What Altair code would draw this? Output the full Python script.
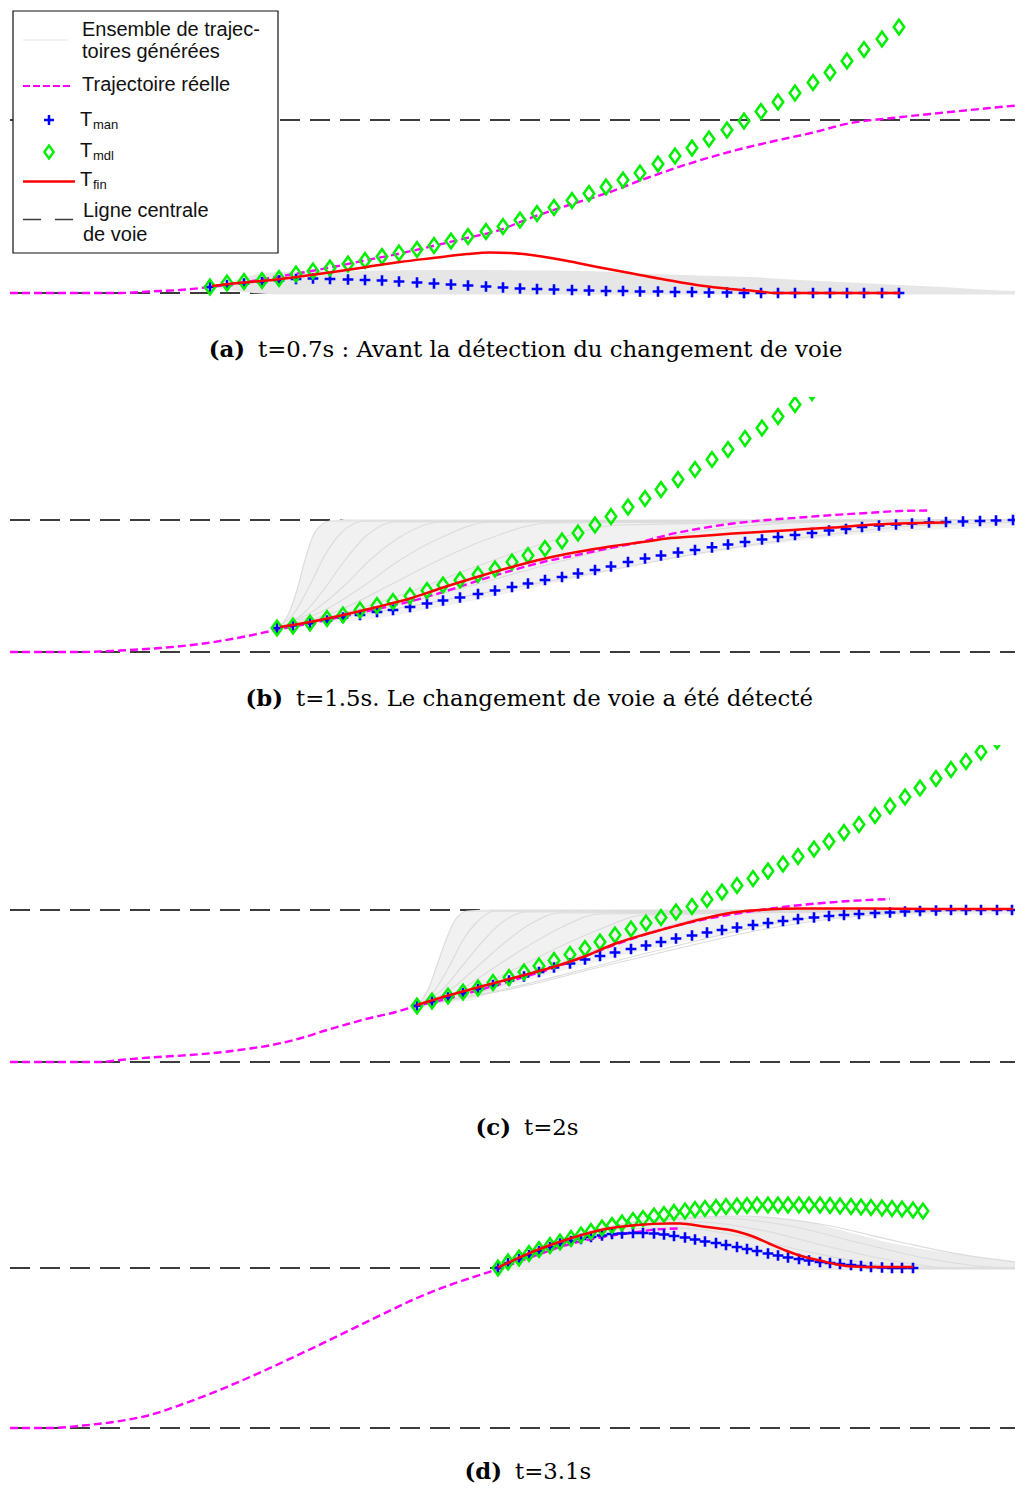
import altair as alt
import pandas as pd

# ---------------- Panel (a) : t=0.7s ----------------
a_lanes = [0, 173]
a_x = [210, 227, 244, 262, 279, 296, 313, 330, 348, 365, 382, 399, 417, 434, 451, 468, 486, 503, 520, 537,
       554, 572, 589, 606, 623, 640, 658, 675, 692, 709, 727, 744, 761, 778, 795, 813, 830, 847, 864, 882, 899]
a_man = [6, 8, 9.5, 11, 12.5, 14, 14.5, 14, 13.5, 13, 12.5, 11.5, 10.5, 9.5, 8.5, 7.5, 6.5, 5.5, 4.5, 4,
         3.5, 3, 2.5, 2, 2, 1.5, 1.5, 1, 1, 0.5, 0.5, 0, 0, 0, 0, 0, 0, 0, 0, 0, 0]
a_mdl = [6, 10, 11.5, 12.5, 14.5, 19, 22, 25, 29, 32.5, 36.5, 40, 43.5, 47.5, 52, 56.5, 61.5, 66.5, 73, 79.5,
         85.5, 92.5, 99.5, 106, 113, 120, 129, 137, 145, 154, 163, 172, 181.5, 191, 200, 210.5, 220.5, 232, 243.5, 254, 266]
a_fin_x = [212, 233, 267, 300, 333, 367, 400, 433, 467, 490, 510, 535, 565, 600, 635, 670, 700, 730, 760, 775, 900]
a_fin_y = [7, 9.5, 12.5, 16.5, 21, 26, 31, 35, 39, 40.5, 40, 37.5, 32.5, 25.5, 19, 12.5, 7.5, 4, 1.5, 0, 0]
a_real_x = [10, 120, 150, 180, 210, 240, 270, 300, 333, 367, 400, 433, 467, 500, 525, 566, 607, 647, 688, 729,
            770, 811, 851, 892, 930, 970, 1000, 1023]
a_real_y = [0, 0, 1.5, 3, 6, 10, 15, 20, 26, 33, 39.5, 47, 55, 63, 73, 87, 100, 115, 129, 141,
            151, 160, 170, 175, 179, 183, 186, 188]
a_fan_x = [210, 230, 253, 280, 350, 450, 550, 600, 650, 700, 750, 800, 850, 900, 950, 980, 1000, 1023]
a_fan_hi = [6, 11, 18, 21, 22, 23, 22.5, 21.5, 19, 17.5, 16, 13, 10.5, 8, 5.5, 3.5, 2.5, 2]
a_fan_lo = [6, 3, 0, -1.5, -1.5, -1.5, -1.5, -1.5, -1.5, -1.5, -1.5, -1.5, -1.5, -1.5, -1.5, -1.5, -1.5, -1.5]

# ---------------- Panel (b) : t=1.5s ----------------
b_lanes = [0, 132]
b_x = [277, 293, 310, 327, 343, 360, 377, 393, 410, 427, 443, 460, 478, 495, 512, 528, 545, 562, 578, 595,
       611, 628, 645, 661, 678, 695, 712, 728, 745, 762, 778, 795, 812, 829, 846, 862, 879, 896, 912, 929,
       946, 963, 980, 996, 1013]
b_man = [24, 26.5, 28.7, 31.5, 34.5, 37, 40, 42, 45, 48.5, 51.5, 54.5, 58, 61.5, 65, 68.5, 72, 75, 78.5, 82,
         85.5, 90, 93.5, 96.5, 99.5, 102, 104.7, 107.5, 110, 112.5, 115, 117, 119, 121.5, 123, 125, 126.5, 127.5,
         128.5, 129.5, 130, 130.5, 131, 131.5, 132]
b_mdl = [24, 26, 29, 33.5, 37, 42, 46.5, 50.5, 56, 61.5, 67, 72, 77.5, 83, 90, 96.5, 103.5, 111, 119, 127,
         135.5, 145, 153.5, 162.5, 172.5, 182.5, 192.5, 202.5, 213.5, 224, 235.5, 247.5, 259.5]
b_fin_x = [280, 310, 343, 377, 410, 443, 477, 510, 543, 577, 610, 643, 667, 700, 733, 767, 800, 833, 867, 900, 945]
b_fin_y = [25, 30, 37, 45, 53.5, 64.5, 75, 84.5, 93, 100, 105.5, 110, 113.5, 116, 118.5, 120.5, 122.5, 124.5, 127, 128.5, 129.5]
b_real_x = [10, 80, 120, 160, 200, 240, 278, 310, 343, 377, 410, 443, 477, 510, 543, 577, 610, 643, 667, 700,
            733, 767, 800, 833, 867, 900, 928]
b_real_y = [0, 0, 1.5, 4, 8, 14.5, 22.5, 28.5, 35.5, 43, 50.5, 60, 71, 81, 90, 97, 104, 110.5, 117, 123.5,
            128.5, 132, 134.5, 137, 139, 141, 141.5]
b_fan_x = [277, 288, 297, 305, 315, 330, 350, 450, 550, 650, 750, 850, 950, 1023]
b_fan_hi = [24, 37, 62, 92, 120, 131, 133, 133, 133, 133, 133, 133, 133, 133]
b_fan_lo = [24, 25, 26.5, 27.5, 29, 30, 31, 47, 68, 89, 105, 117, 123, 124]
b_fan_curves = [
    [(277, 24), (288, 37), (297, 62), (305, 92), (315, 120), (330, 131), (1023, 132)],
    [(277, 24), (295, 40), (310, 67), (325, 97), (342, 120), (365, 131), (1023, 132)],
    [(277, 24), (305, 40), (325, 64), (345, 92), (365, 115), (395, 130), (1023, 132)],
    [(277, 24), (315, 42), (345, 67), (370, 92), (400, 115), (440, 130), (1023, 132)],
    [(277, 24), (325, 42), (365, 67), (400, 92), (440, 114), (490, 130), (1023, 132)],
    [(277, 24), (340, 42), (390, 67), (435, 90), (485, 112), (550, 129), (1023, 132)],
    [(277, 24), (355, 42), (420, 64), (480, 87), (545, 109), (620, 127), (1023, 132)],
    [(277, 24), (375, 42), (455, 62), (535, 84), (615, 104), (710, 122), (820, 130), (1023, 132)],
    [(277, 24), (400, 44), (500, 62), (600, 80), (700, 99), (800, 114), (900, 125), (1023, 130)],
]

# ---------------- Panel (c) : t=2s ----------------
c_lanes = [0, 152]
c_x = [417, 432, 448, 463, 478, 493, 509, 524, 539, 554, 570, 585, 600, 615, 631, 646, 661, 676, 692, 707,
       722, 737, 753, 768, 783, 798, 814, 829, 844, 859, 875, 890, 905, 920, 936, 951, 966, 981, 997, 1012]
c_man = [56.5, 60.5, 64.5, 69, 73, 77, 81.5, 85.5, 90, 94.5, 98.5, 102.5, 106, 109.5, 113, 116.5, 120, 123.5,
         126.5, 129.5, 132, 134.5, 137, 139, 141, 143, 144.5, 146, 147, 148, 149, 149.5, 150.5, 151, 151.5,
         152, 152, 152, 152, 152]
c_mdl = [56, 61, 66, 70, 74, 79.5, 84.5, 90, 96, 101.5, 107.5, 113.5, 120, 127, 133, 139, 144.5, 150, 155.5,
         162.5, 170, 176.5, 183.5, 191, 198, 205.5, 213, 220.5, 229.5, 237.5, 246.5, 256, 265, 274, 283.5,
         292.5, 300.5, 310, 321]
c_fin_x = [417, 450, 483, 517, 550, 583, 617, 650, 683, 700, 717, 733, 750, 767, 800, 867, 933, 1013]
c_fin_y = [57, 67, 76, 85, 94, 105, 119, 129, 138, 142.5, 146.5, 149.5, 151.5, 152.5, 153.5, 153.5, 153, 153]
c_real_x = [10, 100, 120, 150, 190, 228, 250, 272, 305, 327, 348, 368, 390, 417, 450, 483, 517, 550, 583, 617,
            650, 683, 717, 750, 783, 817, 850, 890]
c_real_y = [0, 0, 2, 4.5, 7, 10.5, 13.5, 17, 25, 32, 38, 43.5, 48.5, 56, 64, 73, 83, 93, 105, 118,
            129, 138, 145, 150.5, 155, 158.5, 161, 163]
c_fan_x = [417, 428, 437, 446, 455, 468, 500, 600, 700, 800, 900, 1023]
c_fan_hi = [56, 72, 97, 122, 142, 151, 153, 153, 153, 153, 153, 153]
c_fan_lo = [56, 57, 58, 59, 60, 61, 73, 101, 124, 140, 147, 148]
c_fan_curves = [
    [(417, 56), (428, 72), (437, 97), (446, 122), (455, 142), (468, 151), (1023, 152)],
    [(417, 56), (435, 72), (450, 97), (463, 122), (477, 140), (495, 151), (1023, 152)],
    [(417, 56), (442, 72), (463, 97), (482, 120), (500, 138), (525, 150), (1023, 152)],
    [(417, 56), (450, 72), (478, 96), (503, 118), (527, 136), (560, 149), (1023, 152)],
    [(417, 56), (460, 72), (495, 95), (528, 116), (560, 134), (600, 148), (1023, 152)],
    [(417, 56), (472, 72), (515, 93), (557, 114), (598, 132), (645, 147), (1023, 152)],
    [(417, 56), (488, 72), (540, 91), (592, 111), (642, 128), (700, 144), (780, 151), (1023, 152)],
    [(417, 56), (505, 73), (570, 89), (635, 106), (700, 122), (770, 138), (850, 148), (1023, 152)],
    [(417, 56), (520, 75), (600, 95), (680, 114), (760, 132), (840, 144), (930, 150), (1023, 152)],
]

# ---------------- Panel (d) : t=3.1s ----------------
d_lanes = [0, 160]
d_x = [498, 508, 519, 529, 539, 550, 560, 571, 581, 591, 602, 612, 622, 633, 643, 654, 664, 674, 685, 695,
       705, 716, 726, 737, 747, 757, 768, 778, 788, 799, 809, 820, 830, 840, 851, 861, 871, 882, 892, 902, 913, 923]
d_man = [160.5, 165, 169, 173, 177, 181, 184.5, 187, 189, 191, 192.5, 194, 194.5, 195, 195, 194.5, 193.5, 192,
         190.5, 188.5, 186.5, 185, 183, 181, 179, 177, 174.5, 172.5, 170.5, 169, 167.5, 166, 165, 164, 163,
         162, 161, 160.5, 160, 160, 160]
d_mdl = [160, 166, 170, 174.5, 178.5, 182.5, 186, 189.5, 193, 196.5, 200, 202.5, 205, 207.5, 209.5, 212, 213.5,
         215.5, 217, 218.5, 219.5, 220.5, 221.5, 222, 222.5, 223, 223, 223, 223, 223, 223, 223, 222.5, 222,
         221.5, 221, 220.5, 220, 219.5, 219, 218, 217]
d_fin_x = [498, 537, 570, 603, 637, 670, 680, 703, 737, 753, 770, 787, 803, 820, 837, 853, 880, 913]
d_fin_y = [160.5, 178, 189.5, 198.5, 203, 204.5, 204.5, 201.5, 196.5, 191.5, 184, 177, 171.5, 167.5, 163.5, 161.5, 161, 161]
d_real_x = [10, 50, 83, 117, 150, 183, 217, 250, 283, 317, 350, 383, 417, 450, 483, 498, 537, 570, 603, 637, 655, 680]
d_real_y = [0, 0, 2.5, 6.5, 13, 24, 37, 51, 66, 82, 98, 114, 130, 143, 154, 159, 173, 184, 191, 196, 198.5, 199.5]
d_fan_x = [498, 540, 580, 620, 660, 700, 740, 780, 810, 840, 870, 900, 950, 1000, 1023]
d_fan_hi = [160, 178, 191, 202, 209, 212, 212, 210, 206, 198, 190, 183, 175, 169, 166]
d_fan_lo = [158, 158, 158, 158, 158, 158, 158, 158, 158, 158, 158, 158, 158, 158, 158]
d_fan_curves = [
    [(498, 160), (560, 185), (620, 195), (660, 194), (720, 184), (780, 172), (840, 163), (880, 160), (1023, 160)],
    [(498, 160), (560, 187), (620, 199), (680, 200), (740, 192), (800, 178), (860, 166), (910, 160), (1023, 160)],
    [(498, 160), (560, 188), (630, 203), (700, 206), (760, 198), (830, 181), (900, 166), (950, 160), (1023, 160)],
    [(498, 160), (570, 191), (640, 206), (720, 210), (790, 202), (860, 185), (930, 169), (990, 161), (1023, 160)],
    [(498, 160), (580, 194), (660, 209), (740, 212), (820, 204), (900, 186), (970, 172), (1023, 165)],
]

captions = [
    ("(a)", "t=0.7s : Avant la détection du changement de voie"),
    ("(b)", "t=1.5s. Le changement de voie a été détecté"),
    ("(c)", "t=2s"),
    ("(d)", "t=3.1s"),
]

# ---------------- styling ----------------
SERIF = "DejaVu Serif"
SANS = "Liberation Sans"
MAGENTA = "#ff00ff"
BLUE = "#0000ff"
GREEN = "#00ee00"
RED = "#ff0000"
LANE = "#3c3c3c"
FAN_LINE = "#dcdcdc"
PLUS = "M-1,0L1,0M0,-1L0,1"
DIAMOND = "M0,-1L0.72,0L0,1L-0.72,0Z"
XS = alt.Scale(domain=[10, 1015], nice=False, zero=False)
W = 1005


def pts(xs, ys):
    return pd.DataFrame({"x": xs[:len(ys)], "y": ys})


def txt(text, x, y, **kw):
    return alt.Chart(alt.Data(values=[{"k": 1}])).mark_text(text=text, **kw).encode(
        x=alt.value(x), y=alt.value(y))


def rule(x1, x2, y, **kw):
    return alt.Chart(alt.Data(values=[{"k": 1}])).mark_rule(**kw).encode(
        x=alt.value(x1), x2=alt.value(x2), y=alt.value(y))


def make_panel(lanes, xs_pts, man, mdl, fin_x, fin_y, real_x, real_y, fan_x, fan_hi, fan_lo, fan_curves,
               ydom, height, fan_fill, cap, cap_x, cap_y, extra=None):
    ys = alt.Scale(domain=ydom, nice=False, zero=False)
    X = alt.X("x:Q", scale=XS, axis=None)
    Y = alt.Y("y:Q", scale=ys, axis=None)
    layers = []
    lane_rows = [{"x": xx, "y": lv, "k": k} for k, lv in enumerate(lanes) for xx in (10, 1023)]
    layers.append(alt.Chart(pd.DataFrame(lane_rows)).mark_line(
        color=LANE, strokeWidth=1.8, strokeDash=[20, 10], clip=True).encode(x=X, y=Y, detail="k:N"))
    fan = pd.DataFrame({"x": fan_x, "hi": fan_hi, "lo": fan_lo})
    layers.append(alt.Chart(fan).mark_area(color=fan_fill, opacity=1, interpolate="monotone", clip=True).encode(
        x=X, y=alt.Y("hi:Q", scale=ys, axis=None), y2="lo:Q"))
    if fan_curves:
        rows = [{"x": xx, "y": yy, "c": ci, "j": j}
                for ci, cur in enumerate(fan_curves) for j, (xx, yy) in enumerate(cur)]
        layers.append(alt.Chart(pd.DataFrame(rows)).mark_line(
            color=FAN_LINE, strokeWidth=1.2, interpolate="monotone", clip=True).encode(
            x=X, y=Y, detail="c:N", order="j:Q"))
    layers.append(alt.Chart(pts(real_x, real_y)).mark_line(
        color=MAGENTA, strokeWidth=2.4, strokeDash=[8, 4], interpolate="monotone", clip=True).encode(x=X, y=Y))
    layers.append(alt.Chart(pts(xs_pts, man)).mark_point(
        shape=PLUS, size=115, filled=False, strokeWidth=2.6, color=BLUE, opacity=1, clip=True).encode(x=X, y=Y))
    layers.append(alt.Chart(pts(xs_pts, mdl)).mark_point(
        shape=DIAMOND, size=215, filled=False, strokeWidth=2.5, color=GREEN, opacity=1, clip=True).encode(x=X, y=Y))
    layers.append(alt.Chart(pts(fin_x, fin_y)).mark_line(
        color=RED, strokeWidth=2.5, interpolate="monotone", clip=True).encode(x=X, y=Y))
    layers.append(txt(cap[0], cap_x, cap_y, font=SERIF, fontSize=22.8, fontWeight="bold",
                      align="right", baseline="alphabetic", color="black"))
    layers.append(txt(cap[1], cap_x + 13, cap_y, font=SERIF, fontSize=22.8,
                      align="left", baseline="alphabetic", color="black"))
    if extra:
        layers.extend(extra)
    return alt.layer(*layers).properties(width=W, height=height)


# legend drawn inside panel (a)
legend = [
    alt.Chart(alt.Data(values=[{"k": 1}])).mark_rect(fill="white", stroke="#111111", strokeWidth=1.2).encode(
        x=alt.value(3), x2=alt.value(268), y=alt.value(1), y2=alt.value(243)),
    rule(13, 58, 30, color="#e4e4e4", strokeWidth=1.2),
    rule(13, 63, 76, color=MAGENTA, strokeWidth=2.2, strokeDash=[7, 3]),
    alt.Chart(alt.Data(values=[{"k": 1}])).mark_point(shape=PLUS, size=100, filled=False, strokeWidth=2.5,
                                                     color=BLUE, opacity=1).encode(x=alt.value(39), y=alt.value(110)),
    alt.Chart(alt.Data(values=[{"k": 1}])).mark_point(shape=DIAMOND, size=170, filled=False, strokeWidth=2.4,
                                                     color=GREEN, opacity=1).encode(x=alt.value(39), y=alt.value(142)),
    rule(13, 65, 171.5, color=RED, strokeWidth=2.5),
    rule(13, 65, 209.5, color=LANE, strokeWidth=1.5, strokeDash=[18, 14]),
]
LEG = dict(font=SANS, fontSize=20, align="left", baseline="middle", color="#111111")
SUB = dict(font=SANS, fontSize=13, align="left", baseline="middle", color="#111111")
legend += [
    txt("Ensemble de trajec-", 72, 20, **LEG),
    txt("toires générées", 72, 42, **LEG),
    txt("Trajectoire réelle", 72, 75, **LEG),
    txt("T", 70, 110, **LEG), txt("man", 83, 115, **SUB),
    txt("T", 70, 141, **LEG), txt("mdl", 83, 146, **SUB),
    txt("T", 70, 170, **LEG), txt("fin", 83, 175, **SUB),
    txt("Ligne centrale", 73, 201, **LEG),
    txt("de voie", 73, 225, **LEG),
]

pa = make_panel(a_lanes, a_x, a_man, a_mdl, a_fin_x, a_fin_y, a_real_x, a_real_y, a_fan_x, a_fan_hi, a_fan_lo,
                None, [-104, 283], 387, "#e6e6e6", captions[0], 235, 347, extra=legend)
pb = make_panel(b_lanes, b_x, b_man, b_mdl, b_fin_x, b_fin_y, b_real_x, b_real_y, b_fan_x, b_fan_hi, b_fan_lo,
                b_fan_curves, [-93, 255], 348, "#f1f1f1", captions[1], 273, 309)
pc = make_panel(c_lanes, c_x, c_man, c_mdl, c_fin_x, c_fin_y, c_real_x, c_real_y, c_fan_x, c_fan_hi, c_fan_lo,
                c_fan_curves, [-128, 317], 445, "#f1f1f1", captions[2], 501, 390)
pd_ = make_panel(d_lanes, d_x, d_man, d_mdl, d_fin_x, d_fin_y, d_real_x, d_real_y, d_fan_x, d_fan_hi, d_fan_lo,
                 d_fan_curves, [-56, 238], 294, "#ececec", captions[3], 492, 289)

chart = alt.vconcat(pa, pb, pc, pd_, spacing=0, bounds="flush",
                    padding={"left": 2, "top": 2, "right": 0, "bottom": 0},
                    background="white").configure_view(strokeWidth=0)

chart.save("out.html", embed_options={"renderer": "svg", "actions": False})
